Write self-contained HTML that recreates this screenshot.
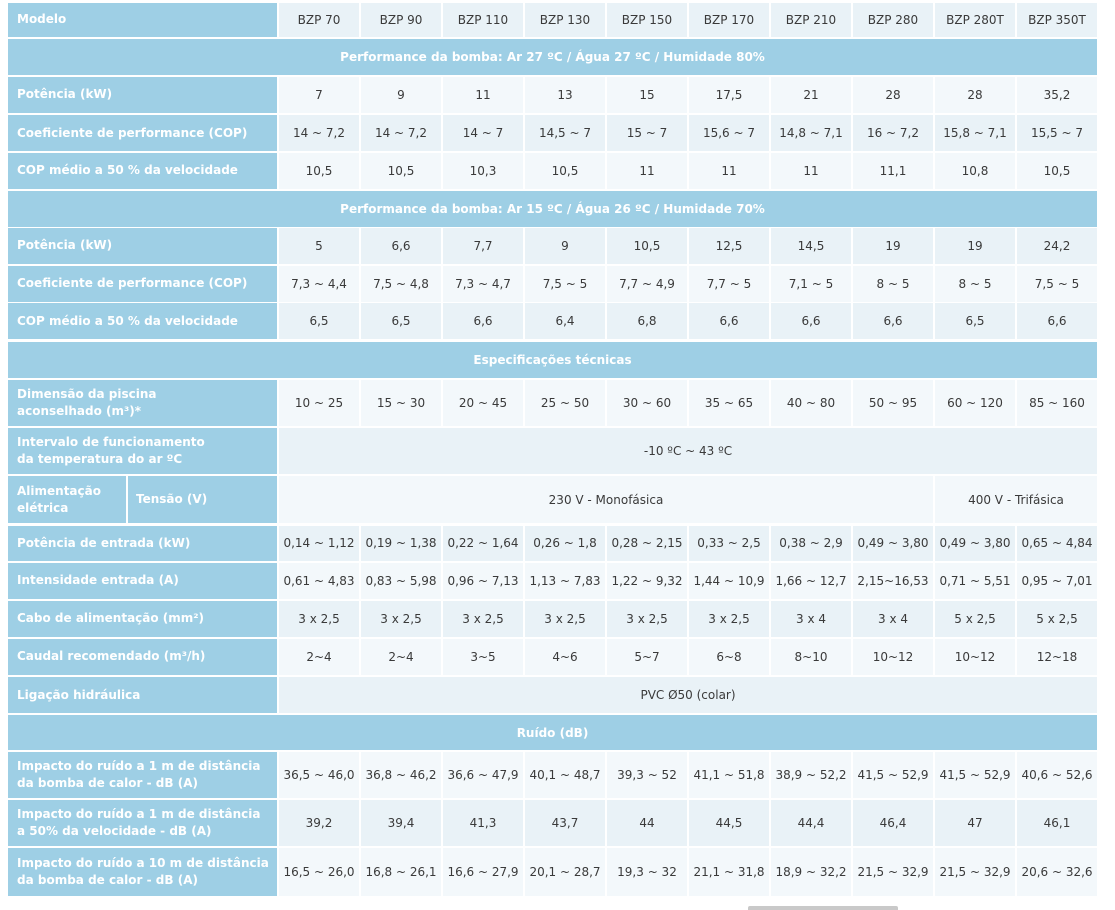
<!DOCTYPE html>
<html><head><meta charset="utf-8">
<style>
html,body{margin:0;padding:0;background:#fff;}
body{width:1115px;height:910px;position:relative;overflow:hidden;font-family:"DejaVu Sans","Liberation Sans",sans-serif;}
.r{position:absolute;left:8px;width:1089px;display:grid;grid-template-columns:269px repeat(10,80px);column-gap:2px;}
.l{background:#9ecfe5;color:#fff;font-weight:bold;font-size:12px;line-height:17px;padding-left:9px;display:flex;align-items:center;white-space:nowrap;}
.d{display:flex;align-items:center;justify-content:center;font-size:12px;color:#3a3a3a;white-space:nowrap;}
.D .d{background:#e9f2f7;}
.L .d{background:#f3f8fb;}
.s{grid-column:1/-1;background:#9ecfe5;color:#fff;font-weight:bold;font-size:12px;display:flex;align-items:center;justify-content:center;}
.split{display:grid;grid-template-columns:118px 149px;column-gap:2px;}
.split .l{padding-left:9px;}
.split .l+.l{padding-left:8px;}
.sb{position:absolute;left:748px;top:906px;width:150px;height:4px;background:#c9c9c9;border-radius:2px 2px 0 0;}
</style></head><body>

<div class="r D" style="top:2.5px;height:34.5px"><div class="l">Modelo</div><div class="d">BZP 70</div><div class="d">BZP 90</div><div class="d">BZP 110</div><div class="d">BZP 130</div><div class="d">BZP 150</div><div class="d">BZP 170</div><div class="d">BZP 210</div><div class="d">BZP 280</div><div class="d">BZP 280T</div><div class="d">BZP 350T</div></div>

<div class="r" style="top:39px;height:36px"><div class="s">Performance da bomba: Ar 27 ºC / Água 27 ºC / Humidade 80%</div></div>

<div class="r L" style="top:77px;height:35.5px"><div class="l">Potência (kW)</div><div class="d">7</div><div class="d">9</div><div class="d">11</div><div class="d">13</div><div class="d">15</div><div class="d">17,5</div><div class="d">21</div><div class="d">28</div><div class="d">28</div><div class="d">35,2</div></div>

<div class="r D" style="top:115px;height:36px"><div class="l">Coeficiente de performance (COP)</div><div class="d">14 ~ 7,2</div><div class="d">14 ~ 7,2</div><div class="d">14 ~ 7</div><div class="d">14,5 ~ 7</div><div class="d">15 ~ 7</div><div class="d">15,6 ~ 7</div><div class="d">14,8 ~ 7,1</div><div class="d">16 ~ 7,2</div><div class="d">15,8 ~ 7,1</div><div class="d">15,5 ~ 7</div></div>

<div class="r L" style="top:153px;height:35.5px"><div class="l">COP médio a 50 % da velocidade</div><div class="d">10,5</div><div class="d">10,5</div><div class="d">10,3</div><div class="d">10,5</div><div class="d">11</div><div class="d">11</div><div class="d">11</div><div class="d">11,1</div><div class="d">10,8</div><div class="d">10,5</div></div>

<div class="r" style="top:191px;height:35.5px"><div class="s">Performance da bomba: Ar 15 ºC / Água 26 ºC / Humidade 70%</div></div>

<div class="r D" style="top:228px;height:35.5px"><div class="l">Potência (kW)</div><div class="d">5</div><div class="d">6,6</div><div class="d">7,7</div><div class="d">9</div><div class="d">10,5</div><div class="d">12,5</div><div class="d">14,5</div><div class="d">19</div><div class="d">19</div><div class="d">24,2</div></div>

<div class="r L" style="top:266px;height:35.5px"><div class="l">Coeficiente de performance (COP)</div><div class="d">7,3 ~ 4,4</div><div class="d">7,5 ~ 4,8</div><div class="d">7,3 ~ 4,7</div><div class="d">7,5 ~ 5</div><div class="d">7,7 ~ 4,9</div><div class="d">7,7 ~ 5</div><div class="d">7,1 ~ 5</div><div class="d">8 ~ 5</div><div class="d">8 ~ 5</div><div class="d">7,5 ~ 5</div></div>

<div class="r D" style="top:303px;height:36px"><div class="l">COP médio a 50 % da velocidade</div><div class="d">6,5</div><div class="d">6,5</div><div class="d">6,6</div><div class="d">6,4</div><div class="d">6,8</div><div class="d">6,6</div><div class="d">6,6</div><div class="d">6,6</div><div class="d">6,5</div><div class="d">6,6</div></div>

<div class="r" style="top:342px;height:35.5px"><div class="s">Especificações técnicas</div></div>

<div class="r L" style="top:379.5px;height:46px"><div class="l">Dimensão da piscina<br>aconselhado (m³)*</div><div class="d">10 ~ 25</div><div class="d">15 ~ 30</div><div class="d">20 ~ 45</div><div class="d">25 ~ 50</div><div class="d">30 ~ 60</div><div class="d">35 ~ 65</div><div class="d">40 ~ 80</div><div class="d">50 ~ 95</div><div class="d">60 ~ 120</div><div class="d">85 ~ 160</div></div>

<div class="r D" style="top:428px;height:46px"><div class="l">Intervalo de funcionamento<br>da temperatura do ar ºC</div><div class="d" style="grid-column:2 / span 10">-10 ºC ~ 43 ºC</div></div>

<div class="r L" style="top:476px;height:47px"><div class="split"><div class="l">Alimentação<br>elétrica</div><div class="l">Tensão (V)</div></div><div class="d" style="grid-column:2 / span 8">230 V - Monofásica</div><div class="d" style="grid-column:10 / span 2">400 V - Trifásica</div></div>

<div class="r D" style="top:525.5px;height:35px"><div class="l">Potência de entrada (kW)</div><div class="d">0,14 ~ 1,12</div><div class="d">0,19 ~ 1,38</div><div class="d">0,22 ~ 1,64</div><div class="d">0,26 ~ 1,8</div><div class="d">0,28 ~ 2,15</div><div class="d">0,33 ~ 2,5</div><div class="d">0,38 ~ 2,9</div><div class="d">0,49 ~ 3,80</div><div class="d">0,49 ~ 3,80</div><div class="d">0,65 ~ 4,84</div></div>

<div class="r L" style="top:563px;height:35.5px"><div class="l">Intensidade entrada (A)</div><div class="d">0,61 ~ 4,83</div><div class="d">0,83 ~ 5,98</div><div class="d">0,96 ~ 7,13</div><div class="d">1,13 ~ 7,83</div><div class="d">1,22 ~ 9,32</div><div class="d">1,44 ~ 10,9</div><div class="d">1,66 ~ 12,7</div><div class="d">2,15~16,53</div><div class="d">0,71 ~ 5,51</div><div class="d">0,95 ~ 7,01</div></div>

<div class="r D" style="top:601px;height:35.5px"><div class="l">Cabo de alimentação (mm²)</div><div class="d">3 x 2,5</div><div class="d">3 x 2,5</div><div class="d">3 x 2,5</div><div class="d">3 x 2,5</div><div class="d">3 x 2,5</div><div class="d">3 x 2,5</div><div class="d">3 x 4</div><div class="d">3 x 4</div><div class="d">5 x 2,5</div><div class="d">5 x 2,5</div></div>

<div class="r L" style="top:638.5px;height:36px"><div class="l">Caudal recomendado (m³/h)</div><div class="d">2~4</div><div class="d">2~4</div><div class="d">3~5</div><div class="d">4~6</div><div class="d">5~7</div><div class="d">6~8</div><div class="d">8~10</div><div class="d">10~12</div><div class="d">10~12</div><div class="d">12~18</div></div>

<div class="r D" style="top:677px;height:36px"><div class="l">Ligação hidráulica</div><div class="d" style="grid-column:2 / span 10">PVC Ø50 (colar)</div></div>

<div class="r" style="top:715px;height:35px"><div class="s">Ruído (dB)</div></div>

<div class="r L" style="top:752px;height:46px"><div class="l">Impacto do ruído a 1 m de distância<br>da bomba de calor - dB (A)</div><div class="d">36,5 ~ 46,0</div><div class="d">36,8 ~ 46,2</div><div class="d">36,6 ~ 47,9</div><div class="d">40,1 ~ 48,7</div><div class="d">39,3 ~ 52</div><div class="d">41,1 ~ 51,8</div><div class="d">38,9 ~ 52,2</div><div class="d">41,5 ~ 52,9</div><div class="d">41,5 ~ 52,9</div><div class="d">40,6 ~ 52,6</div></div>

<div class="r D" style="top:800px;height:46px"><div class="l">Impacto do ruído a 1 m de distância<br>a 50% da velocidade - dB (A)</div><div class="d">39,2</div><div class="d">39,4</div><div class="d">41,3</div><div class="d">43,7</div><div class="d">44</div><div class="d">44,5</div><div class="d">44,4</div><div class="d">46,4</div><div class="d">47</div><div class="d">46,1</div></div>

<div class="r L" style="top:848px;height:48px"><div class="l">Impacto do ruído a 10 m de distância<br>da bomba de calor - dB (A)</div><div class="d">16,5 ~ 26,0</div><div class="d">16,8 ~ 26,1</div><div class="d">16,6 ~ 27,9</div><div class="d">20,1 ~ 28,7</div><div class="d">19,3 ~ 32</div><div class="d">21,1 ~ 31,8</div><div class="d">18,9 ~ 32,2</div><div class="d">21,5 ~ 32,9</div><div class="d">21,5 ~ 32,9</div><div class="d">20,6 ~ 32,6</div></div>

<div class="sb"></div>
</body></html>
